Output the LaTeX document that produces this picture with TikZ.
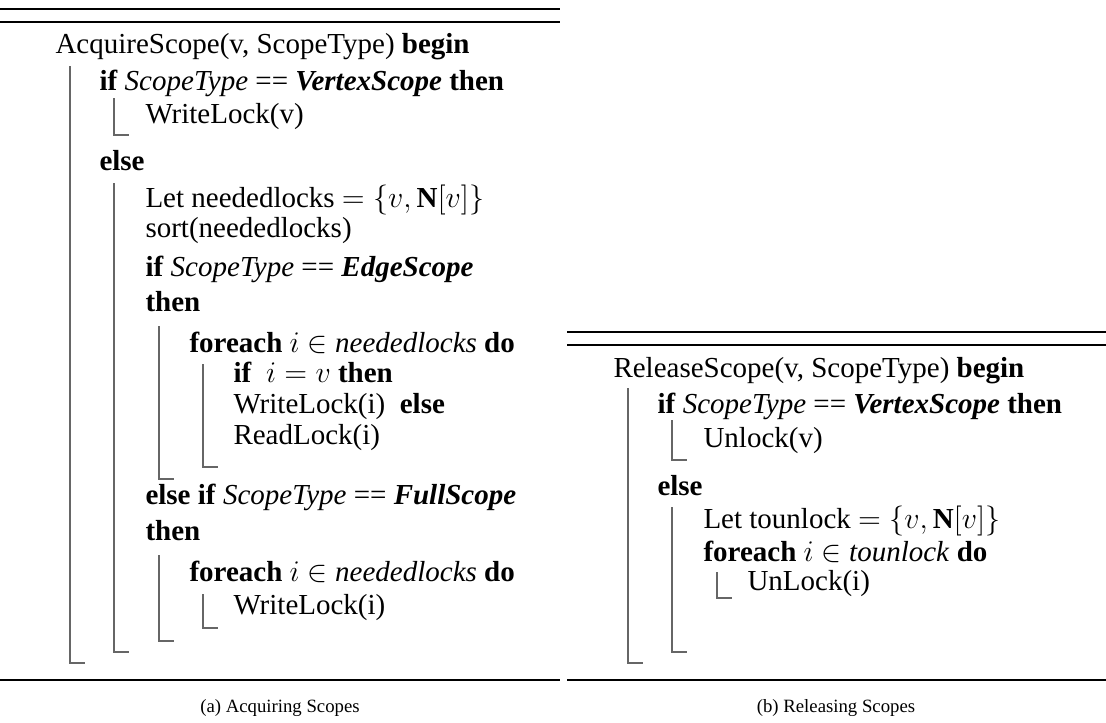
\documentclass[tikz,border=0pt]{standalone}
\usepackage{fontspec}
\setmainfont{Liberation Serif}
\usepackage{tikz}

% block bar: x, top, bottom
\newcommand{\blockbar}[3]{\draw[bar] (#1,#2) -- (#1,#3) -- ++(15,0);}

\begin{document}
\begin{tikzpicture}[
    x=0.4pt, y=-0.4pt,
    code/.style={
        anchor=base west,
        inner sep=0pt,
        font=\fontsize{11.6}{14}\selectfont
    },
    caption/.style={
        anchor=base,
        inner sep=0pt,
        font=\fontsize{7.5}{9}\selectfont
    },
    bar/.style={
        draw=black!60,
        line width=0.45pt
    },
    heavyrule/.style={line width=0.8pt},
    lightrule/.style={line width=0.6pt}
]
\useasboundingbox (0,0) rectangle (1106,722);

% (a) acquiring
\draw[heavyrule] (0,9) -- (560,9);
\draw[lightrule] (0,22) -- (560,22);

\node[code] (acq) at (55,53) {AcquireScope(v, ScopeType) \textbf{begin}};
\node[code] (ifv) at (99,90) {\textbf{if} \textit{ScopeType} == \textbf{\textit{VertexScope}} \textbf{then}};
\node[code] (wlv) at (145,123) {WriteLock(v)};
\node[code] (els) at (99,170) {\textbf{else}};
\node[code] (need) at (145,207) {Let neededlocks $=\{v,\mathbf{N}[v]\}$};
\node[code] (srt) at (145,237) {sort(neededlocks)};
\node[code] (ife) at (145,276) {\textbf{if} \textit{ScopeType} == \textbf{\textit{EdgeScope}}};
\node[code] (thne) at (145,311) {\textbf{then}};
\node[code] (fea) at (189,352) {\textbf{foreach} $i\in$ \textit{neededlocks} \textbf{do}};
\node[code] (ifi) at (233,382) {\textbf{if}\ \ $i=v$ \textbf{then}};
\node[code] (wli) at (233,413) {WriteLock(i)\ \ \textbf{else}};
\node[code] (rli) at (233,444) {ReadLock(i)};
\node[code] (elf) at (145,504) {\textbf{else if} \textit{ScopeType} == \textbf{\textit{FullScope}}};
\node[code] (thnf) at (145,540) {\textbf{then}};
\node[code] (feb) at (189,581) {\textbf{foreach} $i\in$ \textit{neededlocks} \textbf{do}};
\node[code] (wlj) at (233,614) {WriteLock(i)};

\blockbar{70}{66}{663}
\blockbar{114}{98}{135}
\blockbar{114}{183}{652}
\blockbar{159}{326}{479}
\blockbar{203}{364}{467}
\blockbar{159}{555}{641}
\blockbar{203}{594}{628}

\draw[heavyrule] (0,680) -- (560,680);
\node[caption] (capa) at (280,712) {(a) Acquiring Scopes};

% (b) releasing
\draw[heavyrule] (567,332) -- (1106,332);
\draw[lightrule] (567,345) -- (1106,345);

\node[code] (rel) at (613,377) {ReleaseScope(v, ScopeType) \textbf{begin}};
\node[code] (ifr) at (657,413) {\textbf{if} \textit{ScopeType} == \textbf{\textit{VertexScope}} \textbf{then}};
\node[code] (unv) at (703,447) {Unlock(v)};
\node[code] (elsr) at (657,495) {\textbf{else}};
\node[code] (tou) at (703,528) {Let tounlock $=\{v,\mathbf{N}[v]\}$};
\node[code] (fer) at (703,561) {\textbf{foreach} $i\in$ \textit{tounlock} \textbf{do}};
\node[code] (unl) at (747,590) {UnLock(i)};

\blockbar{628}{388}{663}
\blockbar{672}{420}{460}
\blockbar{672}{507}{652}
\blockbar{717}{572}{598}

\draw[heavyrule] (567,680) -- (1106,680);
\node[caption] (capb) at (836,712) {(b) Releasing Scopes};

\end{tikzpicture}
\end{document}
